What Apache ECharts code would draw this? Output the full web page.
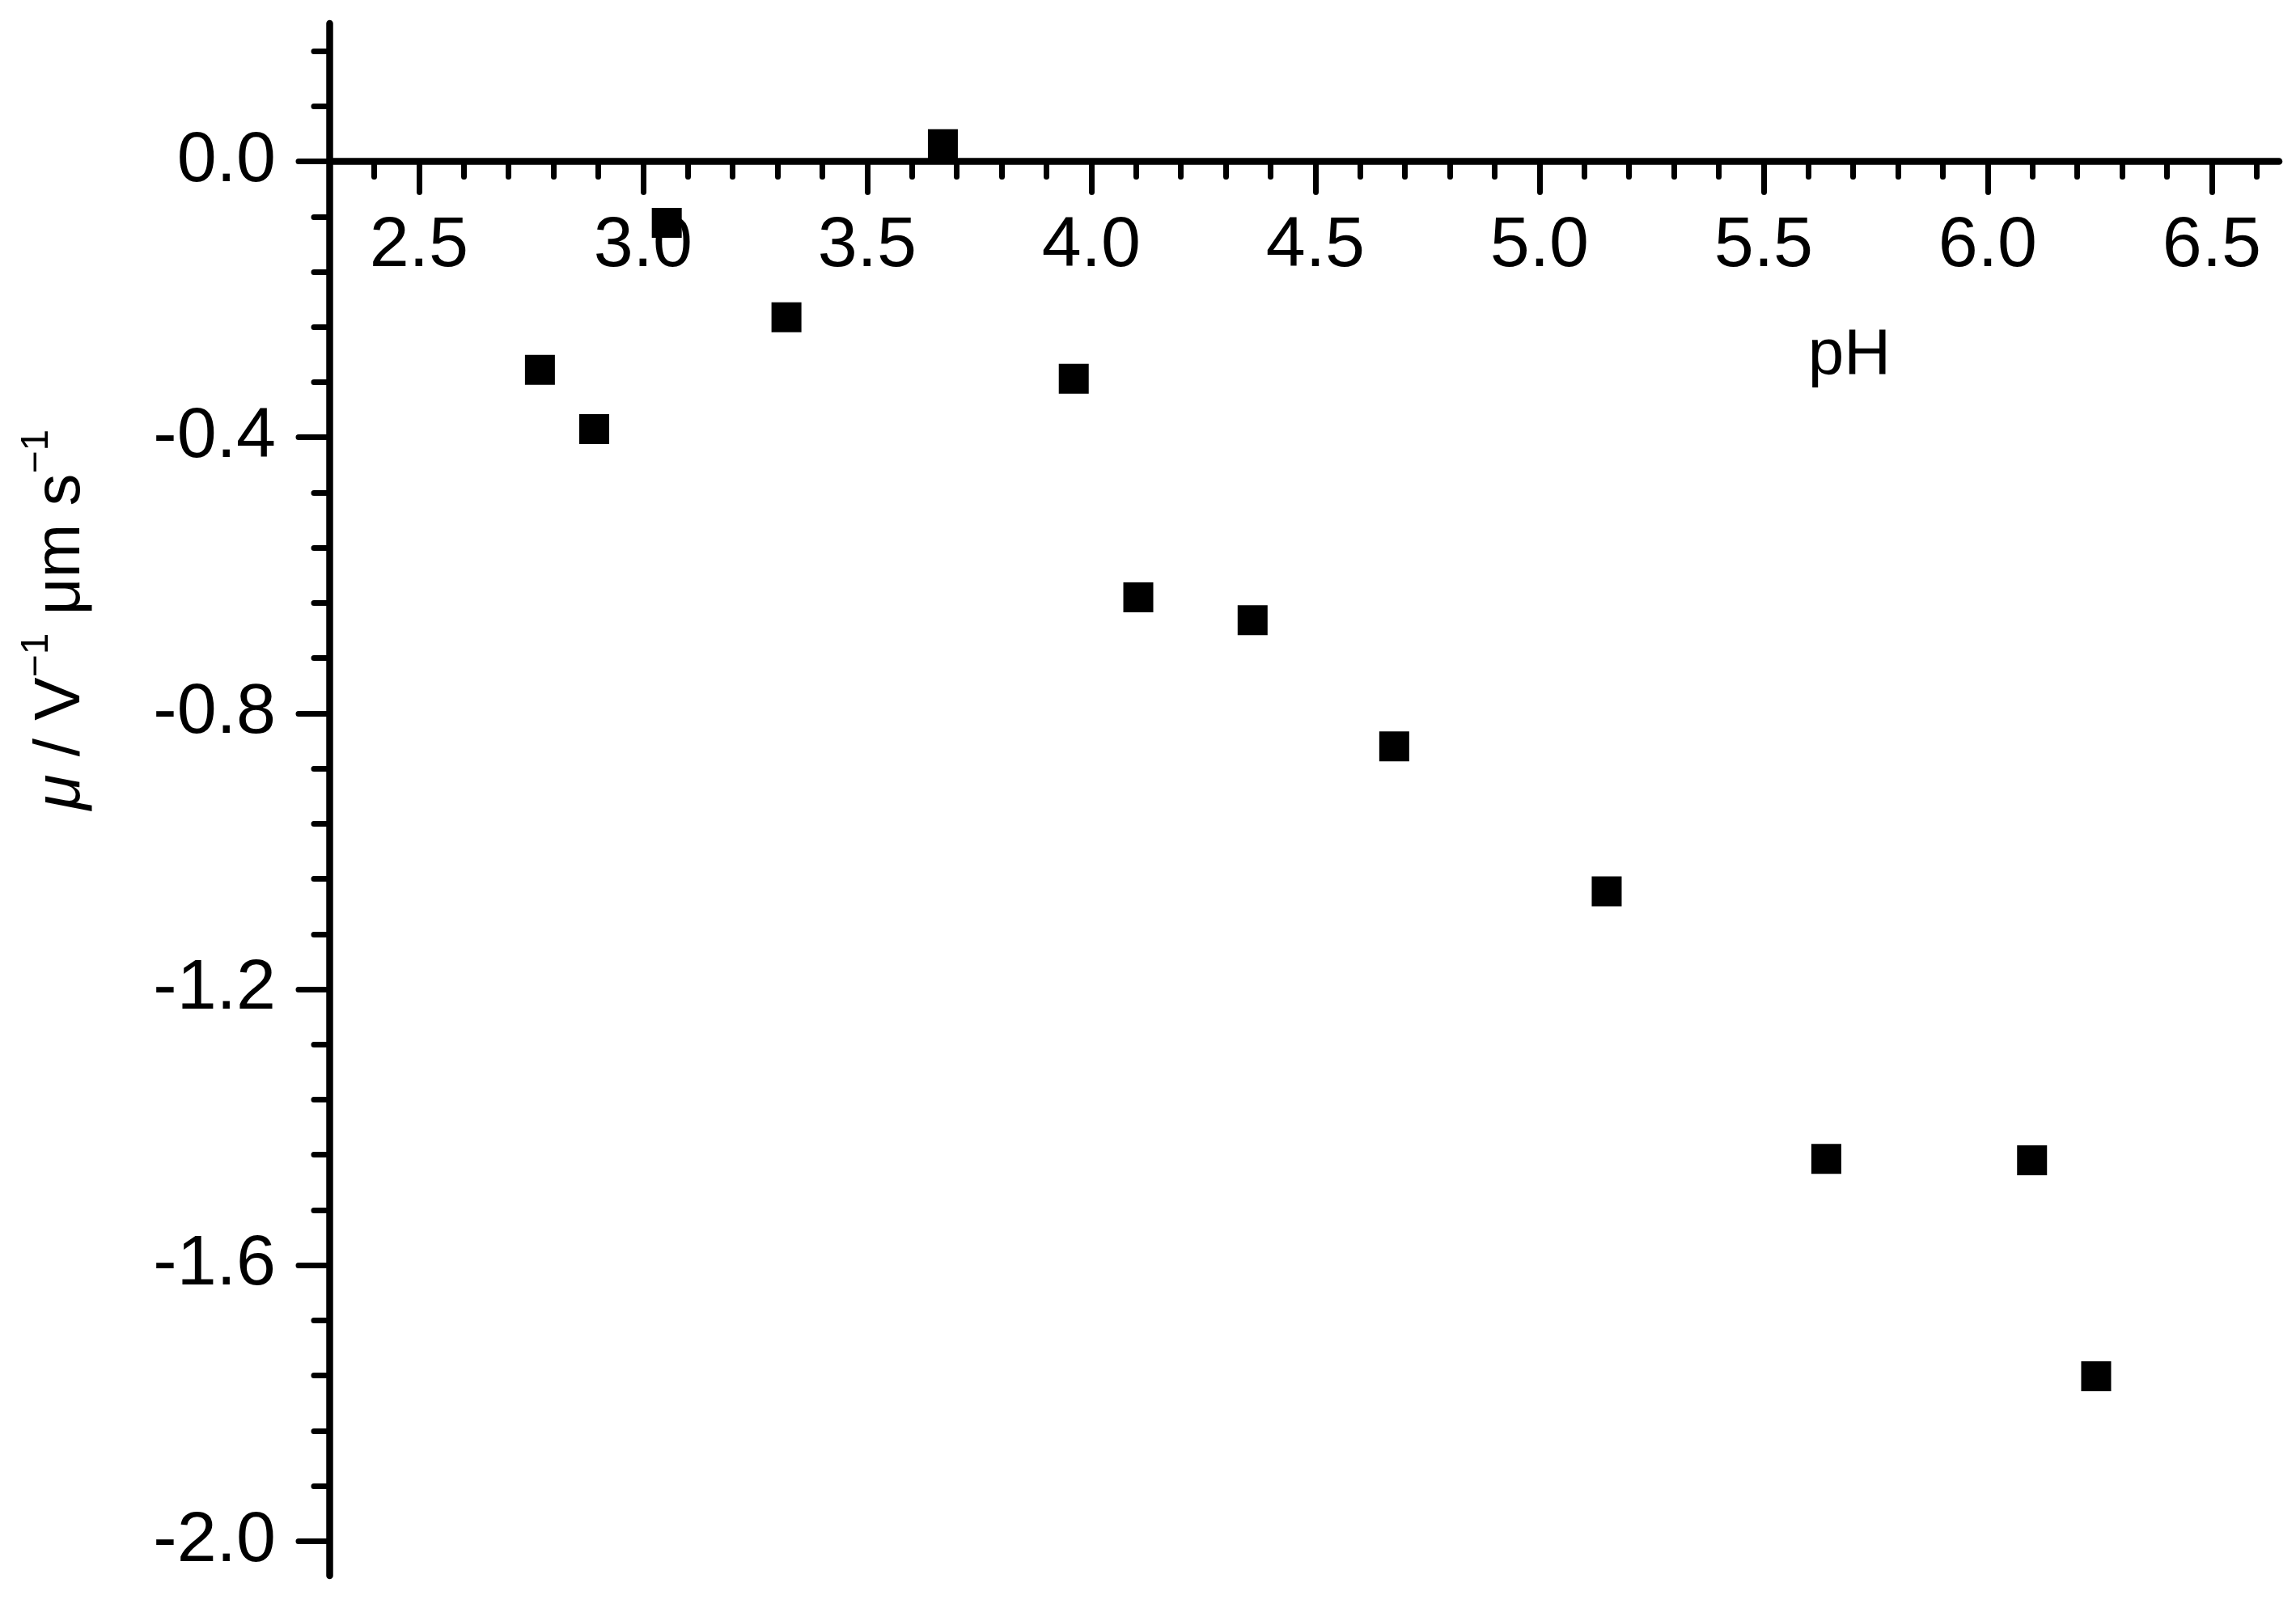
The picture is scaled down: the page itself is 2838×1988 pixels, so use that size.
<!DOCTYPE html>
<html>
<head>
<meta charset="utf-8">
<script src="https://cdn.jsdelivr.net/npm/echarts@6/dist/echarts.min.js"></script>
<style>
html,body{margin:0;padding:0;background:#fff;}
#chart{width:2838px;height:1988px;}
</style>
</head>
<body>
<div id="chart"></div>
<script>
// ---- data ----
const pH = [2.770, 2.891, 3.053, 3.320, 3.669, 3.961, 4.105, 4.360, 4.676, 5.150, 5.640, 6.099, 6.242];
const mobility = [-0.302, -0.388, -0.089, -0.226, 0.025, -0.315, -0.632, -0.665, -0.848, -1.058, -1.446, -1.448, -1.761];

const xMajorTicks = [2.5, 3.0, 3.5, 4.0, 4.5, 5.0, 5.5, 6.0, 6.5];
const xMinorTicks = [2.4, 2.6, 2.7, 2.8, 2.9, 3.1, 3.2, 3.3, 3.4, 3.6, 3.7, 3.8, 3.9,
  4.1, 4.2, 4.3, 4.4, 4.6, 4.7, 4.8, 4.9, 5.1, 5.2, 5.3, 5.4, 5.6, 5.7, 5.8, 5.9,
  6.1, 6.2, 6.3, 6.4, 6.6];
const yMajorTicks = [-2.0, -1.6, -1.2, -0.8, -0.4, 0.0];
const yMinorTicks = [0.16, 0.08, -0.08, -0.16, -0.24, -0.32, -0.48, -0.56, -0.64, -0.72,
  -0.88, -0.96, -1.04, -1.12, -1.28, -1.36, -1.44, -1.52, -1.68, -1.76, -1.84, -1.92];

const xLabel = 'pH';
const yLabel = '{it|μ}{n| / V}{sup|−1}{n| μm s}{sup|−1}';

const X_MIN = 2.3, X_MAX = 6.65, Y_MIN = -2.05, Y_MAX = 0.2;

const FONT = 'Liberation Sans, Arial, sans-serif';
const axisW = 8.5, tickW = 7;
const W = 2838, H = 1988;
const G = { left: 407, right: 21, top: 29, bottom: 40 };
const gridH = H - G.top - G.bottom;
// x axis sits on the y = 0 line: shift it up from the grid bottom
const xAxisOffset = -gridH * (0 - Y_MIN) / (Y_MAX - Y_MIN);

const points = pH.map((v, i) => [v, mobility[i]]);

function xAxisDef(ticks, len, withLabels) {
  return {
    type: 'value', min: X_MIN, max: X_MAX, position: 'bottom', gridIndex: 0, offset: xAxisOffset,
    axisLine: { show: withLabels, onZero: false, lineStyle: { color: '#000', width: axisW, cap: 'round' } },
    axisTick: { show: true, inside: false, customValues: ticks, length: len,
      lineStyle: { color: '#000', width: tickW, cap: 'round' } },
    axisLabel: { show: withLabels, customValues: ticks, margin: 61,
      formatter: v => Number(v).toFixed(1),
      fontSize: 88, lineHeight: 88, color: '#000', fontFamily: FONT },
    splitLine: { show: false }, minorTick: { show: false }
  };
}
function yAxisDef(ticks, len, withLabels) {
  return {
    type: 'value', min: Y_MIN, max: Y_MAX, position: 'left', gridIndex: 0,
    axisLine: { show: withLabels, onZero: false, lineStyle: { color: '#000', width: axisW, cap: 'round' } },
    axisTick: { show: true, inside: false, customValues: ticks, length: len,
      lineStyle: { color: '#000', width: tickW, cap: 'round' } },
    axisLabel: { show: withLabels, customValues: ticks, margin: 66,
      formatter: v => Number(v).toFixed(1),
      fontSize: 88, lineHeight: 88, color: '#000', fontFamily: FONT },
    splitLine: { show: false }, minorTick: { show: false }
  };
}

const chart = echarts.init(document.getElementById('chart'), null, { renderer: 'canvas' });
chart.setOption({
  backgroundColor: '#fff',
  animation: false,
  grid: { left: G.left, right: G.right, top: G.top, bottom: G.bottom, containLabel: false, outerBoundsMode: 'none' },
  xAxis: [xAxisDef(xMajorTicks, 38, true), xAxisDef(xMinorTicks, 19, false)],
  yAxis: [yAxisDef(yMajorTicks, 38, true), yAxisDef(yMinorTicks, 19, false)],
  series: [{
    type: 'scatter', xAxisIndex: 0, yAxisIndex: 0,
    data: points, symbol: 'rect', symbolSize: 37,
    itemStyle: { color: '#000', opacity: 1 }, clip: false
  }],
  graphic: [
    {
      type: 'text', x: 2286, y: 440,
      style: { text: xLabel, fontSize: 80, fontFamily: FONT, fill: '#000',
        align: 'center', verticalAlign: 'middle' }
    },
    {
      type: 'text', x: 76, y: 766, rotation: Math.PI / 2,
      style: {
        text: yLabel, fontSize: 80, fontFamily: FONT, fill: '#000',
        align: 'center', verticalAlign: 'middle',
        rich: {
          it: { fontSize: 80, lineHeight: 108, fontStyle: 'italic', fontFamily: FONT, verticalAlign: 'middle', fill: '#000' },
          n: { fontSize: 80, lineHeight: 108, fontFamily: FONT, verticalAlign: 'middle', fill: '#000' },
          sup: { fontSize: 48, lineHeight: 48, fontFamily: FONT, verticalAlign: 'top', fill: '#000' }
        }
      }
    }
  ]
});
</script>
</body>
</html>
